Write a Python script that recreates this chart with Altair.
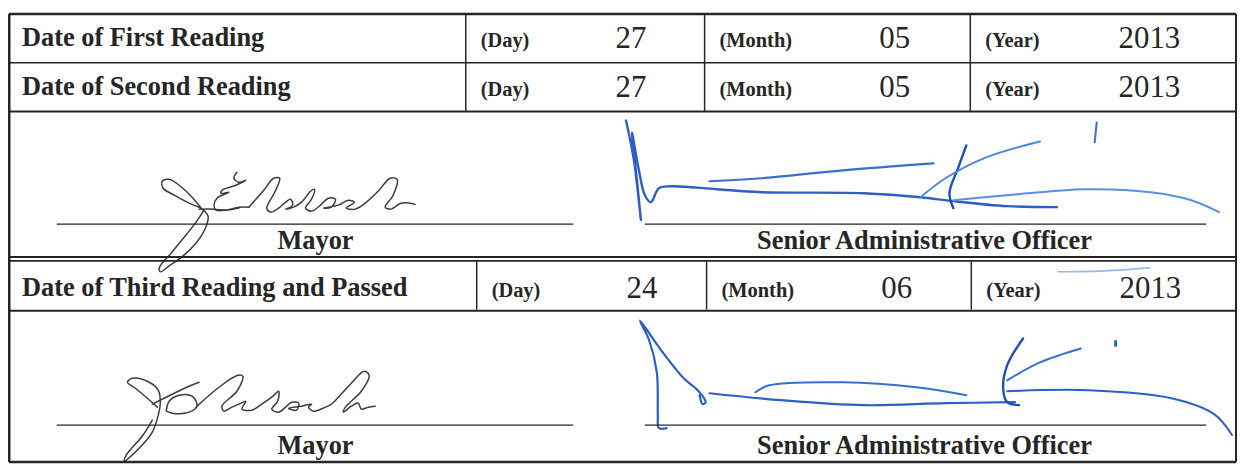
import altair as alt
import pandas as pd

# ---------------- content ----------------
row_labels = ["Date of First Reading", "Date of Second Reading", "Date of Third Reading and Passed"]
field_labels = ["(Day)", "(Month)", "(Year)"]
day_values = ["27", "27", "24"]
month_values = ["05", "05", "06"]
year_values = ["2013", "2013", "2013"]
signer_titles = ["Mayor", "Senior Administrative Officer"]

# signature strokes (traced, reference pixel units)
mayor1_j = [(203,209),(192,196),(180,185),(170,179),(163,181),(164,188),(175,195),(190,203),(203,209),
            (209,216),(206,229),(197,243),(184,256),(170,266),(161,272),(160,268),(173,252),(186,236),
            (197,222),(205,210)]
mayor1_bar = [(200,209),(215,209),(228,210),(240,208)]
mayor1_e = [(238,172),(235,178),(240,182),(247,180),(237,185),(223,190),(222,193),(230,192),(218,198),
            (215,205),(217,210),(227,210),(240,207),(250,207)]
mayor1_letters = [(250,207),(265,190),(275,178),(281,178),(276,192),(268,208),(272,212),(280,208),
                  (287,202),(292,199),(294,205),(287,209),(295,207),(303,202),(312,191),(316,189),(313,199),
                  (307,208),(313,211),(322,205),(330,198),(337,199),(333,207),(325,208),(340,205),(350,200),
                  (356,202),(348,208),(357,209),(367,203),(380,191),(392,178),(399,179),(395,195),(387,207),
                  (393,209),(403,203),(417,204)]

mayor2_j = [(158,408),(148,399),(136,389),(128,383),(133,379),(148,382),(159,391),(161,403),(159,416),
            (153,433),(140,449),(125,462),(127,456),(143,437),(153,421)]
mayor2_cross = [(153,405),(173,395),(190,387),(200,383)]
mayor2_loop = [(167,412),(170,402),(180,396),(193,397),(198,407),(190,413),(173,414),(167,412)]
mayor2_letters = [(197,408),(220,388),(239,376),(244,377),(238,392),(223,407),(225,412),(233,408),
                  (240,405),(247,402),(243,410),(253,411),(263,405),(273,398),(280,392),(279,402),(273,410),
                  (280,413),(287,408),(293,403),(300,404),(298,411),(290,409),(303,407),(313,405),(310,408),
                  (315,412),(327,408),(333,405),(352,385),(366,372),(371,376),(363,392),(347,408),(345,413),
                  (353,407),(360,404),(363,410),(370,408),(377,407)]

sao1_main = [(629,120),(637,160),(644,220),(640,180),(635,132),(642,170),(648,195),(654,202),(662,188),
             (674,186),(720,189),(765,192),(868,193),(925,197),(958,201),(1012,206),(1062,207)]
sao1_upper = [(713,181),(765,178),(847,170),(938,163)]
sao1_stem = [(971,145),(963,167),(954,193),(958,208)]
sao1_diag = [(925,197),(950,178),(991,157),(1045,141)]
sao1_tail = [(958,200),(1012,195),(1091,189),(1156,192),(1197,200),(1225,212)]
sao1_tick = [(1102,122),(1100,142)]

sao2_main = [(670,429),(662,429),(661,416),(660,373),(652,340),(643,321),(666,353),(687,379),(702,392),
             (709,403),(706,405),(703,396)]
sao2_line = [(713,394),(785,401),(868,406),(950,404),(1020,403)]
sao2_loop = [(759,393),(773,386),(847,383),(921,388),(971,396)]
sao2_stem = [(1028,339),(1012,366),(1008,389),(1012,403),(1024,406)]
sao2_diag = [(1012,381),(1045,363),(1086,349)]
sao2_tail = [(1012,392),(1094,391),(1177,399),(1220,415),(1238,436)]
sao2_dot = [(1121,342),(1121,346)]
stray_mark = [(1063,272),(1110,271),(1155,268)]

# ---------------- layout ----------------
X_L, X_R = 9, 1242
ROW_TOPS = [13, 62, 261]
ROW_BASES = [45, 94, 296]
ROW_H = 49
DIVIDERS = [[468, 708, 975], [468, 708, 975], [479, 710, 976]]
NUM_OFFSETS = [166, 191, 180]
INK = "#262626"

rules = []
def rule(x, x2, y, y2, w):
    rules.append(dict(x=x, x2=x2, y=y, y2=y2, w=w))

rule(X_L, X_R, 13, 13, 2.5)
rule(X_L, X_R, 62, 62, 1.5)
rule(X_L, X_R, 111, 111, 2)
rule(X_L, X_R, 257, 257, 2)
rule(X_L, X_R, 261, 261, 2)
rule(X_L, X_R, 311, 311, 2)
rule(X_L, X_R, 463, 463, 2.5)
rule(X_L, X_L, 13, 463, 3)
rule(X_R, X_R, 13, 463, 2)
for i, top in enumerate(ROW_TOPS):
    for d in DIVIDERS[i]:
        rule(d, d, top, top + ROW_H, 1.5)
# signature lines
for ly in [224, 426]:
    rule(57, 576, ly, ly, 1.2)
    rule(648, 1212, ly, ly, 1.2)
rules_df = pd.DataFrame(rules)

big_bold, small_bold, numbers, titles = [], [], [], []
for i, base in enumerate(ROW_BASES):
    big_bold.append(dict(x=22, y=base, t=row_labels[i]))
    vals = [day_values[i], month_values[i], year_values[i]]
    for k, d in enumerate(DIVIDERS[i]):
        small_bold.append(dict(x=d + 15, y=base + 1, t=field_labels[k]))
        numbers.append(dict(x=d + NUM_OFFSETS[k], y=base + 2, t=vals[k]))
for by in [249, 455]:
    titles.append(dict(x=317, y=by, t=signer_titles[0]))
    titles.append(dict(x=929, y=by, t=signer_titles[1]))

GRAY = "#3c3c3c"
strokes = [
    (mayor1_j, GRAY, 1.5), (mayor1_bar, GRAY, 1.5), (mayor1_e, GRAY, 1.5), (mayor1_letters, GRAY, 1.5),
    (mayor2_j, GRAY, 1.5), (mayor2_cross, GRAY, 1.5), (mayor2_loop, GRAY, 1.5), (mayor2_letters, GRAY, 1.5),
    (sao1_main, "#2f5fc4", 2.4), (sao1_upper, "#3a6fd0", 2.2), (sao1_stem, "#1f4fb0", 2.4),
    (sao1_diag, "#4f86dc", 2.0), (sao1_tail, "#5b8fe0", 2.0), (sao1_tick, "#3a6fd0", 2.0),
    (sao2_main, "#2f5fc4", 2.2), (sao2_line, "#2f5fc4", 2.2), (sao2_loop, "#3a6fd0", 2.0),
    (sao2_stem, "#1f4fb0", 2.4), (sao2_diag, "#3a6fd0", 2.0), (sao2_tail, "#2f5fc4", 2.0),
    (sao2_dot, "#2f5fc4", 3.0), (stray_mark, "#9bb8ec", 1.6),
]
pts = []
for sid, (plist, col, w) in enumerate(strokes):
    for j, (px, py) in enumerate(plist):
        pts.append(dict(sid=sid, o=j, x=px, y=py, c=col, w=w))
pts_df = pd.DataFrame(pts)

xs = alt.Scale(domain=[8, 1244], nice=False, zero=False)
ys = alt.Scale(domain=[8, 464], nice=False, zero=False, reverse=True)
X = lambda f="x": alt.X(f"{f}:Q", scale=xs, axis=None)
Y = lambda f="y": alt.Y(f"{f}:Q", scale=ys, axis=None)

rule_layer = alt.Chart(rules_df).mark_rule(color=INK).encode(
    x=X(), x2="x2:Q", y=Y(), y2="y2:Q",
    strokeWidth=alt.StrokeWidth("w:Q", scale=None, legend=None),
)

def text_layer(rows, size, weight, align):
    return alt.Chart(pd.DataFrame(rows)).mark_text(
        font="Liberation Serif", fontSize=size, fontWeight=weight, align=align,
        baseline="alphabetic", color=INK,
    ).encode(x=X(), y=Y(), text="t:N")

sig_layer = alt.Chart(pts_df).mark_line(interpolate="catmull-rom", strokeCap="round", strokeJoin="round").encode(
    x=X(), y=Y(), detail="sid:N", order="o:Q",
    color=alt.Color("c:N", scale=None, legend=None),
    strokeWidth=alt.StrokeWidth("w:Q", scale=None, legend=None),
)

chart = alt.layer(
    sig_layer,
    rule_layer,
    text_layer(big_bold, 26.5, "bold", "left"),
    text_layer(small_bold, 20.5, "bold", "left"),
    text_layer(numbers, 31, "normal", "center"),
    text_layer(titles, 26.5, "bold", "center"),
).properties(
    width=1236, height=456, padding=0, background="white",
    autosize=alt.AutoSizeParams(type="none"),
).configure_view(strokeWidth=0)

chart.save("out.html", embed_options={"renderer": "svg", "actions": False})
